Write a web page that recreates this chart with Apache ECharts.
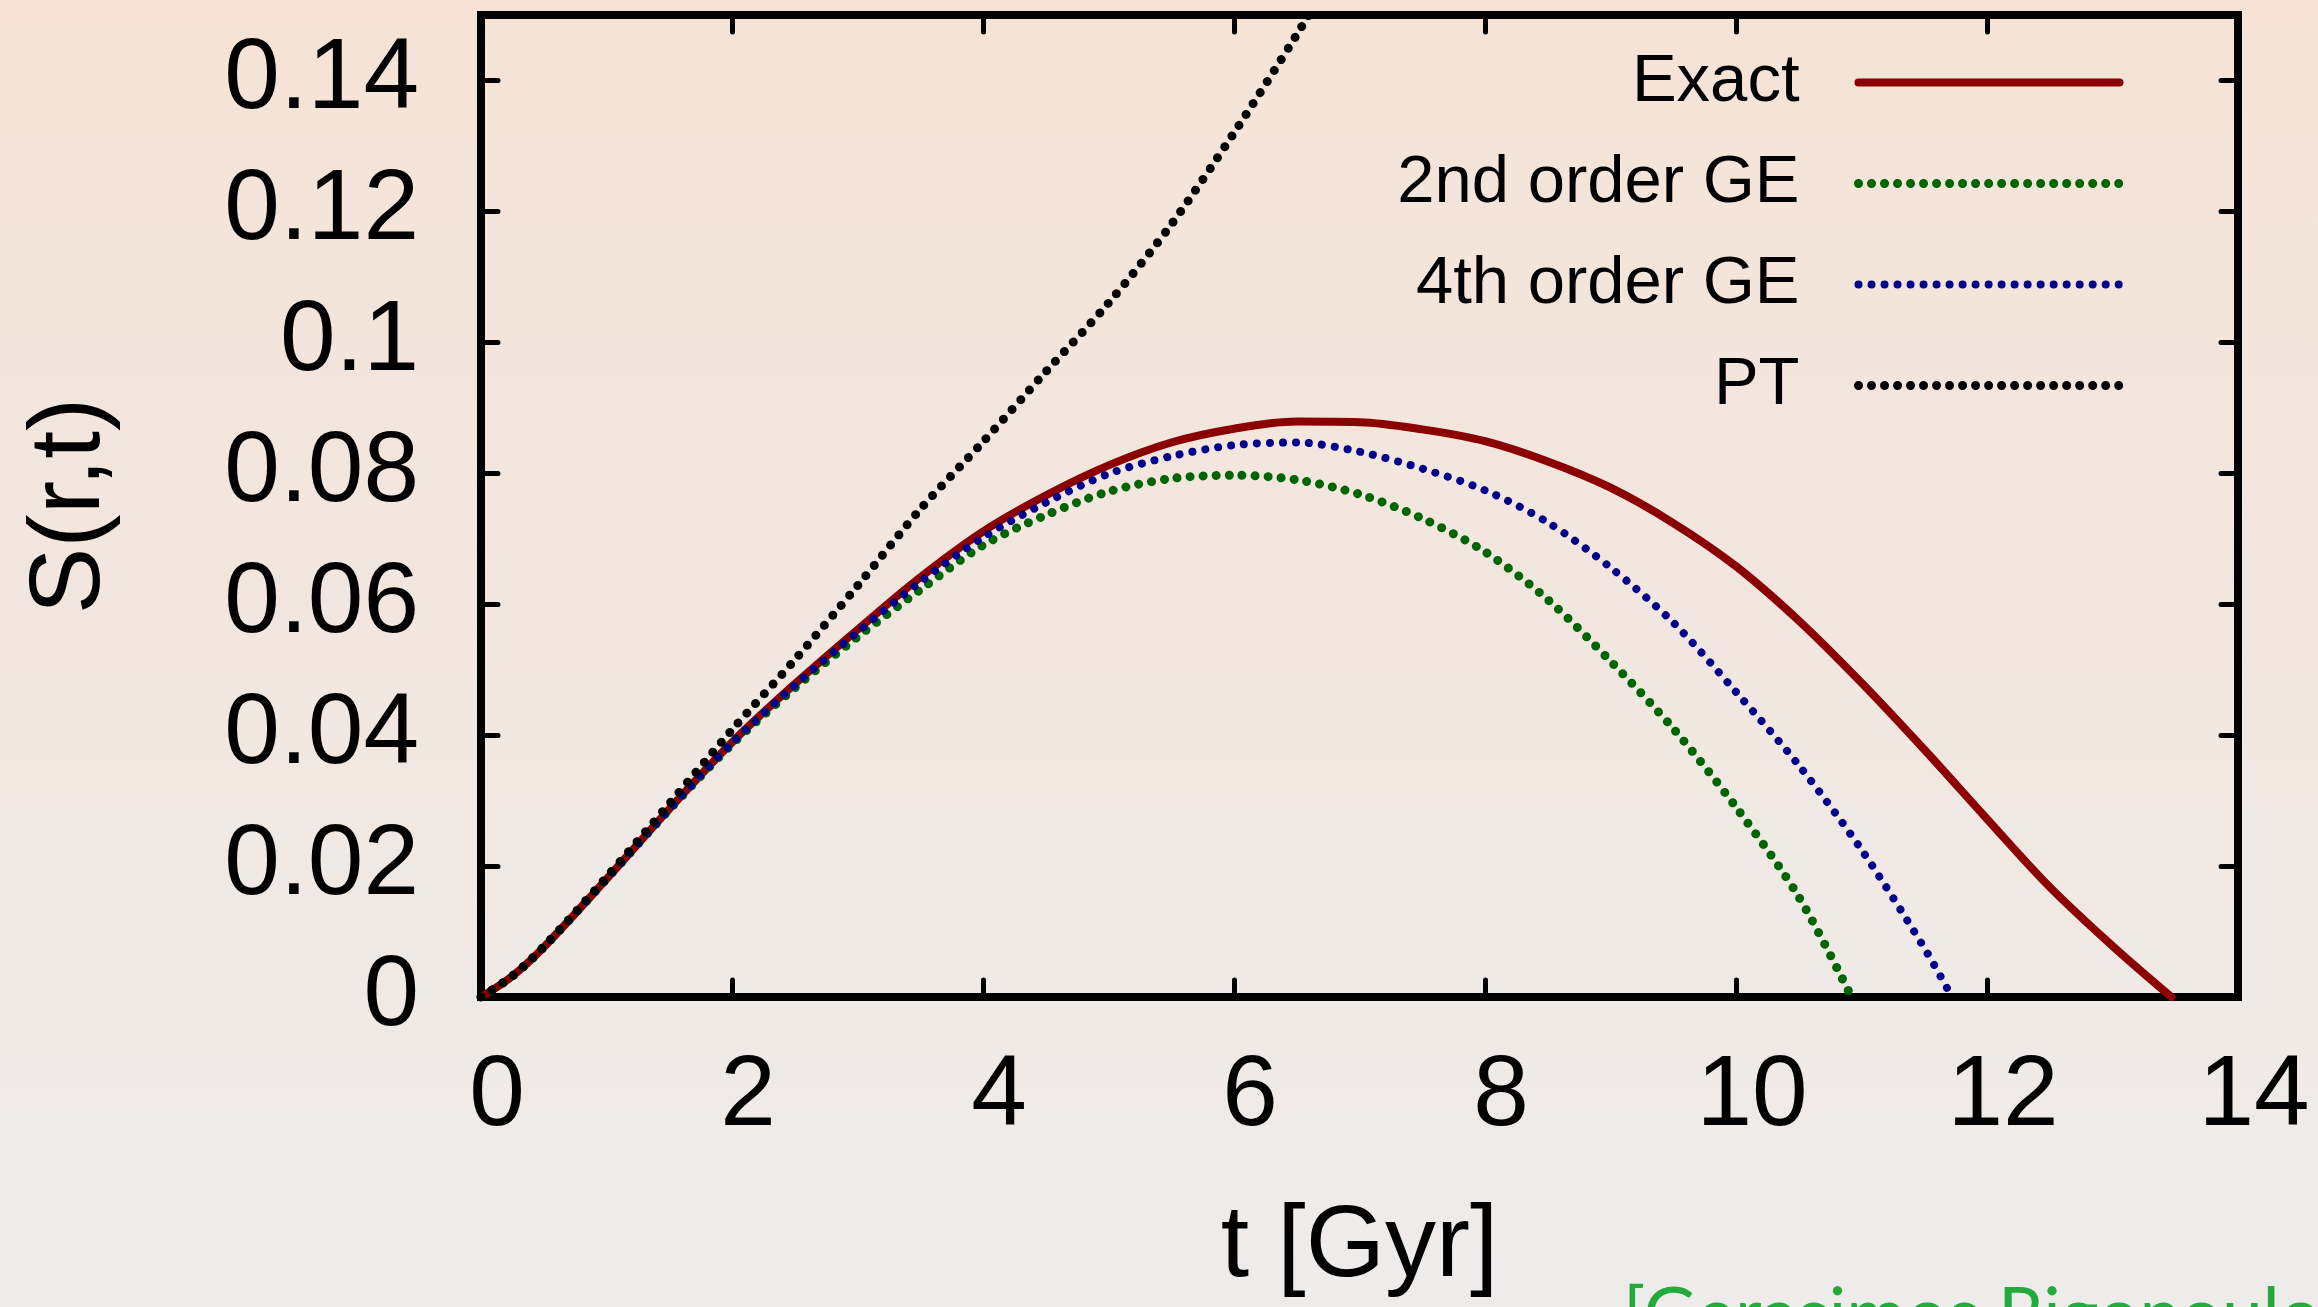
<!DOCTYPE html>
<html>
<head>
<meta charset="utf-8">
<script src="https://cdn.jsdelivr.net/npm/echarts@6/dist/echarts.min.js"></script>
<style>
  html, body { margin: 0; padding: 0; width: 2318px; height: 1307px; overflow: hidden; }
  #chart { width: 2318px; height: 1307px; }
</style>
</head>
<body>
<div id="chart"></div>
<script>
// values, t in Gyr
const tExact = [0, 0.25, 0.5, 1, 1.5, 2, 2.5, 3, 3.5, 4, 4.5, 5, 5.5, 6, 6.5, 7, 7.5, 8, 8.5, 9, 9.5, 10, 10.5, 11, 11.5, 12, 12.5, 13, 13.47];
const exactVals = [0, 0.0032, 0.0076, 0.0180, 0.0287, 0.0389, 0.0478, 0.0561, 0.0641, 0.0711, 0.0766, 0.0812, 0.0847, 0.0868, 0.0879, 0.0878, 0.0867, 0.0849, 0.0818, 0.0778, 0.0724, 0.0658, 0.0575, 0.0480, 0.0378, 0.0272, 0.0168, 0.0078, 0];

const tGE2 = [0, 0.25, 0.5, 1, 1.5, 2, 2.5, 3, 3.5, 4, 4.5, 5, 5.5, 6, 6.5, 7, 7.5, 8, 8.5, 9, 9.5, 10, 10.5, 10.92];
const ge2Vals = [0, 0.0032, 0.0076, 0.0180, 0.0286, 0.0386, 0.0472, 0.0550, 0.0622, 0.0690, 0.0736, 0.0772, 0.0792, 0.0797, 0.0790, 0.0768, 0.0731, 0.0680, 0.0607, 0.0513, 0.0410, 0.0290, 0.0153, 0];

const tGE4 = [0, 0.25, 0.5, 1, 1.5, 2, 2.5, 3, 3.5, 4, 4.5, 5, 5.5, 6, 6.5, 7, 7.5, 8, 8.5, 9, 9.5, 10, 10.5, 11, 11.5, 11.72];
const ge4Vals = [0, 0.0032, 0.0076, 0.0180, 0.0287, 0.0388, 0.0476, 0.0557, 0.0634, 0.0702, 0.0755, 0.0799, 0.0826, 0.0843, 0.0847, 0.0833, 0.0807, 0.0774, 0.0725, 0.0656, 0.0572, 0.0466, 0.0354, 0.0225, 0.0075, 0];

const tPT = [0, 0.25, 0.5, 1, 1.5, 2, 2.5, 3, 3.5, 4, 4.5, 5, 5.5, 6, 6.5, 7];
const ptVals = [0, 0.0032, 0.0077, 0.0183, 0.0295, 0.0408, 0.0515, 0.0628, 0.0745, 0.0848, 0.0955, 0.1060, 0.1180, 0.1320, 0.1470, 0.1630];

const seriesNames = ['Exact', '2nd order GE', '4th order GE', 'PT'];
const xTicks = { min: 0, max: 14, step: 2 };
const yTicks = { min: 0, max: 0.15, step: 0.02 };

const FONT = '"Liberation Sans", Arial, Helvetica, sans-serif';

function zip(xs, ys) {
  return xs.map(function (x, i) { return [x, ys[i]]; });
}

var chart = echarts.init(document.getElementById('chart'), null, { renderer: 'canvas' });

var frameLine = { color: '#000', width: 8, cap: 'square' };
var tickStyle = { inside: true, length: 17, lineStyle: { color: '#000', width: 5, cap: 'round' } };

function dotted(color, w) {
  return { color: color, width: w, type: [0.01, 13], cap: 'round' };
}

var option = {
  backgroundColor: {
    type: 'linear', x: 0, y: 0, x2: 0, y2: 1,
    colorStops: [
      { offset: 0, color: '#f6e3d6' },
      { offset: 0.5, color: '#f1e7e0' },
      { offset: 1, color: '#eeeceb' }
    ]
  },
  animation: false,
  grid: { left: 481, right: 80, top: 15, bottom: 310, containLabel: false },
  legend: {
    orient: 'vertical',
    align: 'right',
    right: 189,
    top: 44,
    itemWidth: 261,
    itemHeight: 20,
    itemGap: 34,
    data: seriesNames,
    itemStyle: { opacity: 0 },
    lineStyle: { width: 'inherit', type: 'inherit', cap: 'round' },
    textStyle: { fontFamily: FONT, fontSize: 67, color: '#000', lineHeight: 67, padding: [0, 54, 0, 0] }
  },
  xAxis: [{
    type: 'value', position: 'bottom',
    min: xTicks.min, max: xTicks.max, interval: xTicks.step,
    axisLine: { onZero: false, lineStyle: frameLine },
    axisTick: tickStyle,
    splitLine: { show: false },
    axisLabel: { margin: 50, fontFamily: FONT, fontSize: 100, color: '#000', padding: [0, 0, 0, 32] },
    name: 't [Gyr]', nameLocation: 'middle', nameGap: 200,
    nameTextStyle: { fontFamily: FONT, fontSize: 102, color: '#000' }
  }, {
    type: 'value', position: 'top',
    min: xTicks.min, max: xTicks.max, interval: xTicks.step,
    axisLine: { onZero: false, lineStyle: frameLine },
    axisTick: tickStyle,
    splitLine: { show: false },
    axisLabel: { show: false }
  }],
  yAxis: [{
    type: 'value', position: 'left',
    min: yTicks.min, max: yTicks.max, interval: yTicks.step,
    axisLine: { onZero: false, lineStyle: frameLine },
    axisTick: tickStyle,
    splitLine: { show: false },
    axisLabel: {
      margin: 62, fontFamily: FONT, fontSize: 100, color: '#000', showMaxLabel: false,
      formatter: function (v) { return String(+v.toFixed(2)); }
    },
    name: 'S(r,t)', nameLocation: 'middle', nameGap: 360, nameRotate: 90,
    nameTextStyle: { fontFamily: FONT, fontSize: 100, color: '#000' }
  }, {
    type: 'value', position: 'right',
    min: yTicks.min, max: yTicks.max, interval: yTicks.step,
    axisLine: { onZero: false, lineStyle: frameLine },
    axisTick: tickStyle,
    splitLine: { show: false },
    axisLabel: { show: false }
  }],
  series: [{
    name: seriesNames[0], type: 'line', data: zip(tExact, exactVals),
    symbol: 'none', showSymbol: false, smooth: 0.35,
    lineStyle: { color: '#8b0000', width: 8, cap: 'round' },
    itemStyle: { color: '#8b0000' }
  }, {
    name: seriesNames[1], type: 'line', data: zip(tGE2, ge2Vals),
    symbol: 'none', showSymbol: false, smooth: 0.3,
    lineStyle: dotted('#006400', 9),
    itemStyle: { color: '#006400' }
  }, {
    name: seriesNames[2], type: 'line', data: zip(tGE4, ge4Vals),
    symbol: 'none', showSymbol: false, smooth: 0.3,
    lineStyle: dotted('#00008b', 8),
    itemStyle: { color: '#00008b' }
  }, {
    name: seriesNames[3], type: 'line', data: zip(tPT, ptVals),
    symbol: 'none', showSymbol: false, smooth: 0.3,
    lineStyle: dotted('#000000', 9),
    itemStyle: { color: '#000000' }
  }],
  graphic: [{
    type: 'text', left: 1623, top: 1280, silent: true,
    style: { text: '[Gerasimos Rigopoulos]', font: '73px Lato, "Open Sans", sans-serif', fill: '#22aa3a' }
  }]
};

chart.setOption(option);
</script>
</body>
</html>
